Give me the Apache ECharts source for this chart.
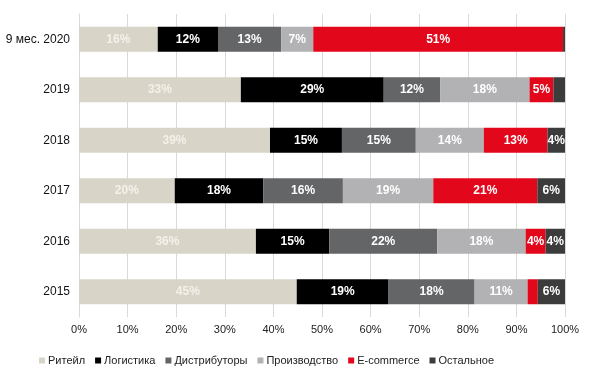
<!DOCTYPE html>
<html>
<head>
<meta charset="utf-8">
<script src="https://cdn.jsdelivr.net/npm/echarts@6/dist/echarts.min.js"></script>
<style>
html,body{margin:0;padding:0;background:#fff;}
#chart{width:600px;height:376px;}
</style>
</head>
<body>
<div id="chart"></div>
<script>
// категории сверху вниз
var periods = ['9 мес. 2020', '2019', '2018', '2017', '2016', '2015'];
var xTicks = ['0%', '10%', '20%', '30%', '40%', '50%', '60%', '70%', '80%', '90%', '100%'];

var retail       = [16.2, 33.3, 39.3, 19.7, 36.4, 44.8];
var logistics    = [12.4, 29.4, 14.8, 18.2, 15.1, 18.9];
var distributors = [13.0, 11.6, 15.2, 16.4, 22.2, 17.7];
var production   = [6.6, 18.4, 14.0, 18.6, 18.2, 10.9];
var ecommerce    = [51.4, 4.9, 13.1, 21.4, 4.1, 2.1];
var other        = [0.4, 2.4, 3.6, 5.7, 4.0, 5.6];

var names = ['Ритейл', 'Логистика', 'Дистрибуторы', 'Производство', 'E-commerce', 'Остальное'];
var colors = ['#d9d4c8', '#000000', '#646567', '#b2b2b4', '#e2071b', '#3c3c3c'];
var values = [retail, logistics, distributors, production, ecommerce, other];

var myChart = echarts.init(document.getElementById('chart'));

var series = names.map(function (n, i) {
  return {
    name: n,
    type: 'bar',
    stack: 'total',
    barWidth: 25,
    data: values[i],
    itemStyle: { color: colors[i] },
    label: {
      show: true,
      position: 'inside',
      color: i === 0 ? '#f4f1ea' : '#ffffff',
      fontFamily: 'Liberation Sans, Arial',
      fontWeight: 'bold',
      fontSize: 12,
      formatter: function (p) {
        return p.value < 3 ? '' : Math.round(p.value) + '%';
      }
    }
  };
});

myChart.setOption({
  animation: false,
  textStyle: { fontFamily: 'Liberation Sans, Arial' },
  grid: { left: 79, right: 35, top: 14, bottom: 59 },
  legend: {
    left: 34,
    top: 350,
    icon: 'rect',
    itemWidth: 6,
    itemHeight: 6,
    itemGap: 10,
    textStyle: { fontSize: 11, color: '#222', padding: [0, 0, 0, -2] },
    data: names
  },
  xAxis: {
    type: 'value',
    min: 0,
    max: 100,
    interval: 10,
    axisLine: { show: false },
    axisTick: { show: false },
    splitLine: { lineStyle: { color: '#d9d9d9' } },
    axisLabel: {
      color: '#222',
      fontSize: 11,
      margin: 7,
      formatter: function (v) { return xTicks[Math.round(v / 10)]; }
    }
  },
  yAxis: {
    type: 'category',
    inverse: true,
    data: periods,
    axisLine: { lineStyle: { color: '#d9d9d9' } },
    axisTick: { show: false },
    axisLabel: { color: '#111', fontSize: 12, margin: 9 }
  },
  series: series
});
</script>
</body>
</html>
